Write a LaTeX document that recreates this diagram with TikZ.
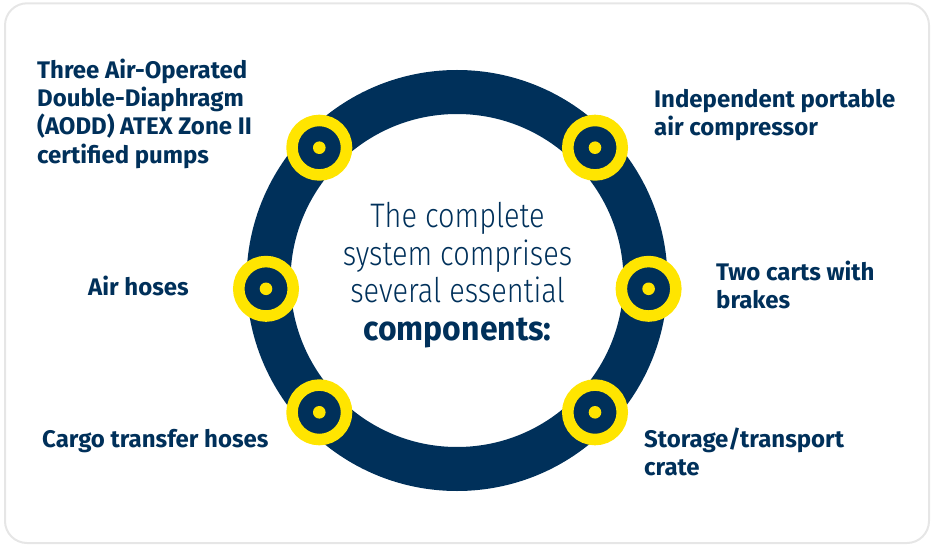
\documentclass[tikz,border=0pt]{standalone}
\usepackage{fontspec}
\setmainfont{Fira Sans}
\newfontfamily\lightfont{Fira Sans Light}[FakeStretch=0.85]
\newfontfamily\boldcond{Fira Sans}[FakeStretch=0.94]
\definecolor{navy}{HTML}{00305A}
\definecolor{yell}{HTML}{FFE500}
\definecolor{frame}{HTML}{E6E6E6}
\begin{document}
\begin{tikzpicture}[x=1pt,y=-1pt,
  lbl/.style={font=\fontsize{24}{28.3}\selectfont\bfseries, text=navy, align=left, inner sep=0pt, anchor=base west},
  ctr/.style={font=\fontsize{34}{37.8}\selectfont\lightfont, text=navy, align=center, inner sep=0pt, anchor=base},
  marker/.style={circle, draw=yell, line width=11.5pt, fill=navy, minimum size=54.5pt, inner sep=0pt},
  dotc/.style={circle, fill=yell, minimum size=12.6pt, inner sep=0pt}]
\useasboundingbox (0,0) rectangle (931,545);
\draw[frame, line width=2pt, rounded corners=22pt] (5,3.3) rectangle (929,543);
\node[circle, draw=navy, line width=44pt, minimum size=377pt, inner sep=0pt] (ring) at (457,280.5) {};
\foreach \n/\x/\y in {tl/319.3/147.7, tr/595/147.7, ml/266/288.8, mr/648.6/288.8, bl/319.3/412.3, br/595/412.3}{
  \node[marker] (m\n) at (\x,\y) {};
  \node[dotc] (d\n) at (m\n) {};
}
\node[ctr] (title) at (457.5,340.7) {The complete\\system comprises\\several essential\\{\boldcond\bfseries components:}};
\node[lbl] (pumps) at (37,163.2) {Three Air-Operated\\Double-Diaphragm\\(AODD) ATEX Zone II\\certified pumps};
\node[lbl] (comp) at (654,135.5) {Independent portable\\air compressor};
\node[lbl] (carts) at (716,308.5) {Two carts with\\brakes};
\node[lbl] (air) at (88,295.5) {Air hoses};
\node[lbl] (cargo) at (42,447.5) {Cargo transfer hoses};
\node[lbl] (crate) at (644,475.5) {Storage/transport\\crate};
\end{tikzpicture}
\end{document}
